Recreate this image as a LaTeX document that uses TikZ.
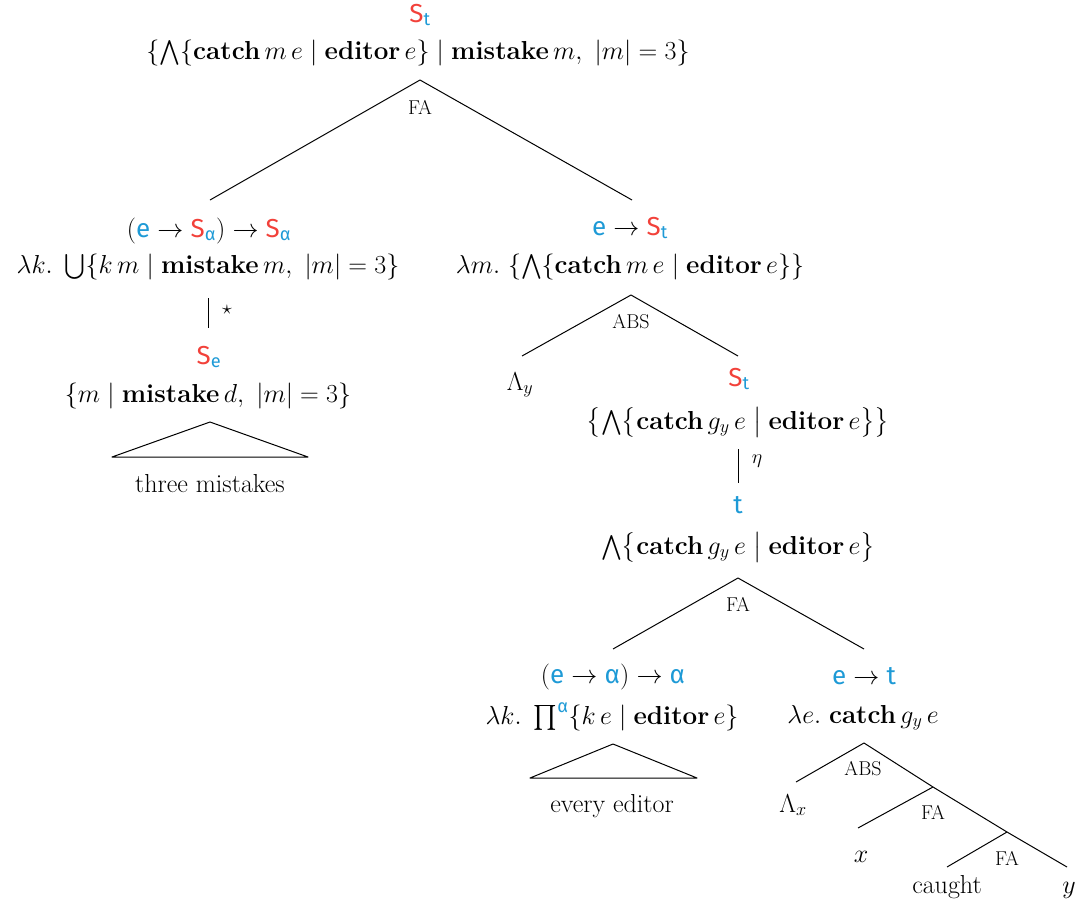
\RequirePackage{fix-cm}
\documentclass[tikz,border=0pt]{standalone}
\usepackage{amsmath}
\usepackage{fontspec}
\newfontfamily\tyf{Fira Sans}
\definecolor{tred}{HTML}{F2413A}
\definecolor{tblue}{HTML}{1E9AD6}
\newcommand\Te{\text{\tyf\color{tblue}e}}
\newcommand\Tt{\text{\tyf\color{tblue}t}}
\newcommand\Ta{\text{\tyf\color{tblue}α}}
\newcommand\TS[1]{\text{\tyf\color{tred}S}_{\text{\tyf\color{tblue}#1}}}
\newcommand\cb[1]{\textbf{#1}}
\begin{document}
\begin{tikzpicture}[x=1pt,y=-1pt,
  every node/.style={font=\fontsize{26}{31}\selectfont, inner sep=0pt, anchor=base},
  lab/.style={font=\fontsize{20}{24}\selectfont, anchor=center},
  small/.style={font=\fontsize{20}{24}\selectfont, anchor=center},
  edge/.style={line width=1pt, line join=round}]
\useasboundingbox (0,0) rectangle (1076,911);

% root
\node (rT) at (420,22) {$\TS{t}$};
\node (rF) at (418,59) {$\{\bigwedge\{\cb{catch}\,m\,e \mid \cb{editor}\,e\} \mid \cb{mistake}\,m,\ |m| = 3\}$};
\coordinate (rA) at (420,80);
\coordinate (rL) at (210,200);
\coordinate (rR) at (632,200);
\draw[edge] (rL) -- (rA) -- (rR);
\node[lab] (rLab) at (420,107) {FA};

% left branch
\node (lT) at (209,237) {$(\Te \to \TS{α}) \to \TS{α}$};
\node (lF) at (208,273) {$\lambda k.\ \bigcup\{k\,m \mid \cb{mistake}\,m,\ |m| = 3\}$};
\coordinate (lV1) at (208,298);
\coordinate (lV2) at (208,328);
\draw[edge] (lV1) -- (lV2);
\node[small] (star) at (227,310) {$\star$};
\node (seT) at (209,364) {$\TS{e}$};
\node (seF) at (208,402) {$\{m \mid \cb{mistake}\,d,\ |m| = 3\}$};
\coordinate (tmA) at (210,422);
\coordinate (tmL) at (112,457);
\coordinate (tmR) at (308,457);
\draw[edge] (tmA) -- (tmL) -- (tmR) -- cycle;
\node (tm) at (210,492) {three mistakes};

% right branch
\node (rrT) at (630,235) {$\Te \to \TS{t}$};
\node (rrF) at (630,273) {$\lambda m.\ \{\bigwedge\{\cb{catch}\,m\,e \mid \cb{editor}\,e\}\}$};
\coordinate (abA) at (631,295);
\coordinate (abL) at (522,356);
\coordinate (abR) at (738,356);
\draw[edge] (abL) -- (abA) -- (abR);
\node[lab] (abLab) at (631,322) {ABS};
\node (ly) at (520,390) {$\Lambda_y$};
\node (s2T) at (739,386) {$\TS{t}$};
\node (s2F) at (738,429) {$\bigl\{\bigwedge\bigl\{\cb{catch}\,g_y\,e \bigm| \cb{editor}\,e\bigr\}\bigr\}$};
\coordinate (eV1) at (738,449);
\coordinate (eV2) at (738,483);
\draw[edge] (eV1) -- (eV2);
\node[small] (eta) at (757,461) {$\eta$};
\node (tT) at (738,513) {$\Tt$};
\node (tF) at (738,554) {$\bigwedge\bigl\{\cb{catch}\,g_y\,e \bigm| \cb{editor}\,e\bigr\}$};
\coordinate (faA) at (738,578);
\coordinate (faL) at (613,649);
\coordinate (faR) at (864,649);
\draw[edge] (faL) -- (faA) -- (faR);
\node[lab] (faLab) at (738,604) {FA};

% every editor
\node (eeT) at (613,683) {$(\Te \to \Ta) \to \Ta$};
\node (eeF) at (612,724) {$\lambda k.\ \prod^{\Ta}\{k\,e \mid \cb{editor}\,e\}$};
\coordinate (eeA) at (613,744);
\coordinate (eeL) at (530,778);
\coordinate (eeR) at (697,778);
\draw[edge] (eeA) -- (eeL) -- (eeR) -- cycle;
\node (ee) at (612,812) {every editor};

% catch
\node (cT) at (864,684) {$\Te \to \Tt$};
\node (cF) at (863,723) {$\lambda e.\ \cb{catch}\,g_y\,e$};
\coordinate (a2A) at (864,743);
\coordinate (a2L) at (796,782);
\coordinate (f2A) at (933,787);
\coordinate (f2L) at (858,828);
\coordinate (f3A) at (1007,832);
\coordinate (f3L) at (947,867);
\coordinate (f3R) at (1067,867);
\draw[edge] (a2L) -- (a2A) -- (f2A);
\draw[edge] (f2L) -- (f2A) -- (f3A);
\draw[edge] (f3L) -- (f3A) -- (f3R);
\node[lab] (a2Lab) at (863,769) {ABS};
\node[lab] (f2Lab) at (933,812) {FA};
\node[lab] (f3Lab) at (1007,858) {FA};
\node (lx) at (793,812) {$\Lambda_x$};
\node (xx) at (861,862) {$x$};
\node (caught) at (947,893) {caught};
\node (yy) at (1069,893) {$y$};
\end{tikzpicture}
\end{document}
